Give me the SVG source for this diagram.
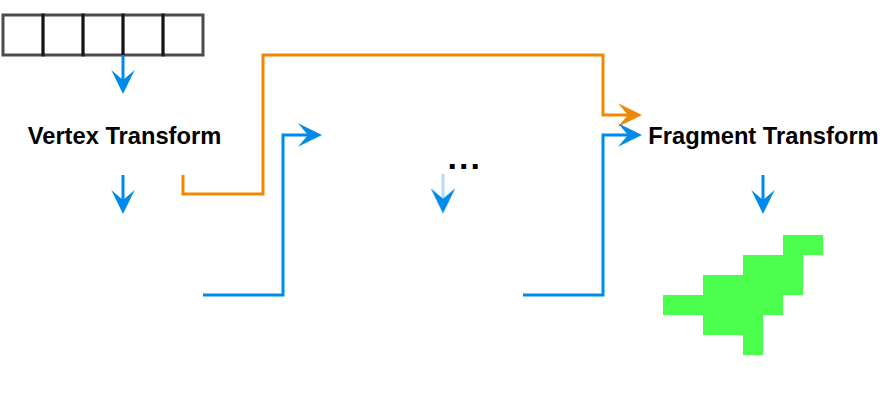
<svg xmlns="http://www.w3.org/2000/svg" width="886" height="418" viewBox="0 0 886 418">
  <style>
    .cell { fill: none; stroke: #000; stroke-opacity: 0.7; stroke-width: 3; }
    .label { font-family: "Liberation Sans", Arial, sans-serif; font-weight: bold; font-size: 23.7px; fill: #000; text-anchor: middle; }
    .blue { fill: none; stroke: #008AEA; stroke-width: 3; }
    .orange { fill: none; stroke: #F08705; stroke-width: 3; }
    .faded { fill: none; stroke: #008AEA; stroke-opacity: 0.3; stroke-width: 3; }
  </style>
  <defs>
    <marker id="arrowBlue" markerUnits="userSpaceOnUse" orient="auto" refX="0" refY="0" markerWidth="30" markerHeight="30" overflow="visible">
      <path d="M14,0 L-10,-11.7 L0,0 L-10,11.7 Z" fill="#008AEA"/>
    </marker>
    <marker id="arrowOrange" markerUnits="userSpaceOnUse" orient="auto" refX="0" refY="0" markerWidth="30" markerHeight="30" overflow="visible">
      <path d="M14,0 L-10,-11.7 L0,0 L-10,11.7 Z" fill="#F08705"/>
    </marker>
    <marker id="arrowFaded" markerUnits="userSpaceOnUse" orient="auto" refX="0" refY="0" markerWidth="30" markerHeight="30" overflow="visible">
      <path d="M14,0 L-10,-11.7 L0,0 L-10,11.7 Z" fill="#008AEA" stroke="#008AEA" stroke-opacity="0.3" stroke-width="1.5"/>
    </marker>
  </defs>
  <rect width="886" height="418" fill="#ffffff"/>

  <g id="array">
    <rect class="cell" x="3" y="15" width="40" height="40"/>
    <rect class="cell" x="43" y="15" width="40" height="40"/>
    <rect class="cell" x="83" y="15" width="40" height="40"/>
    <rect class="cell" x="123" y="15" width="40" height="40"/>
    <rect class="cell" x="163" y="15" width="40" height="40"/>
  </g>

  <g id="vertex-transform">
    <text class="label" x="124.5" y="144">Vertex Transform</text>
  </g>

  <g id="fragment-transform">
    <text class="label" x="763.5" y="144">Fragment Transform</text>
  </g>

  <g id="ellipsis">
    <text x="447.6" y="169" font-family="Liberation Sans, Arial, sans-serif" font-weight="bold" font-size="34" letter-spacing="2" fill="#000">...</text>
  </g>

  <g id="pixels">
    <path d="M783,235 H823 V255 H803 V295 H783 V315 H763 V355 H743 V335 H703 V315 H663 V295 H703 V275 H743 V255 H783 Z" fill="#4DFF4D"/>
  </g>

  <g id="connectors">
    <path class="blue" d="M123,55 V80" marker-end="url(#arrowBlue)"/>
    <path class="blue" d="M123,175 V200" marker-end="url(#arrowBlue)"/>
    <path class="blue" d="M763,175 V200" marker-end="url(#arrowBlue)"/>
    <path class="faded" d="M443,174 V199" marker-end="url(#arrowFaded)"/>
    <path class="orange" d="M183,175 V194 H263 V55 H603 V115 H628" marker-end="url(#arrowOrange)"/>
    <path class="blue" d="M203,295 H283 V135 H308" marker-end="url(#arrowBlue)"/>
    <path class="blue" d="M523,295 H603 V135 H628" marker-end="url(#arrowBlue)"/>
  </g>
</svg>
